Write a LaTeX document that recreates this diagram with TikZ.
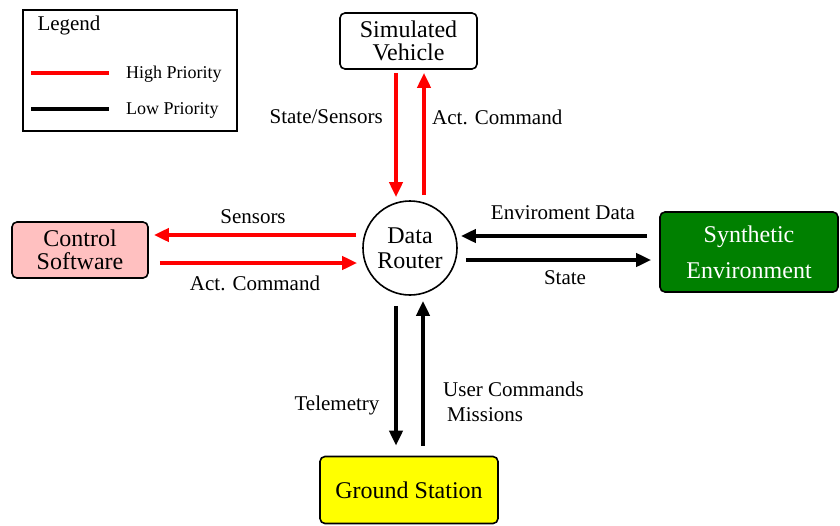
\documentclass[tikz,border=0pt]{standalone}
\usepackage{fontspec}
\setmainfont{Liberation Serif}
\usetikzlibrary{arrows.meta}
\begin{document}
\begin{tikzpicture}[x=1pt,y=-1pt,
  box/.style={draw=black,line width=1.6pt,rounded corners=5pt,align=center,inner sep=0pt,font=\fontsize{24}{23}\selectfont},
  lbl/.style={inner sep=0pt,font=\fontsize{21}{25}\selectfont},
  leg/.style={inner sep=0pt,font=\fontsize{18}{20}\selectfont},
  hp/.style={draw={rgb,255:red,255;green,0;blue,0},line width=4pt,-{Triangle[length=15pt,width=13pt]}},
  lp/.style={draw=black,line width=4pt,-{Triangle[length=15pt,width=13pt]}}
]
\useasboundingbox (0,0) rectangle (840,525);
% legend
\node[draw=black,line width=1.6pt,minimum width=214pt,minimum height=121pt,inner sep=0pt] (legend) at (130,70.5) {};
\node[inner sep=0pt,font=\fontsize{21}{24}\selectfont] (legtitle) at (69,25) {Legend};
\coordinate (hpA) at (31,73); \coordinate (hpB) at (109,73);
\coordinate (lpA) at (31,109); \coordinate (lpB) at (109,109);
\draw[line width=4pt,red] (hpA) -- (hpB);
\draw[line width=4pt,black] (lpA) -- (lpB);
\node[leg,anchor=west] (hptext) at (126,74) {High Priority};
\node[leg,anchor=west] (lptext) at (126,110) {Low Priority};
% nodes
\node[box,fill=white,minimum width=137pt,minimum height=56pt] (sim) at (408.5,41) {Simulated\\Vehicle};
\node[box,fill={rgb,255:red,255;green,192;blue,192},minimum width=136pt,minimum height=56pt] (ctrl) at (80,250) {Control\\Software};
\node[box,fill={rgb,255:red,0;green,128;blue,0},text=white,minimum width=178pt,minimum height=80pt] (syn) at (749,252) {Synthetic\\[13pt]Environment};
\node[box,fill={rgb,255:red,255;green,255;blue,0},minimum width=178pt,minimum height=67pt] (gs) at (409,490) {Ground Station};
\node[draw=black,line width=1.6pt,circle,minimum size=94pt,inner sep=0pt,align=center,font=\fontsize{24}{25}\selectfont] (router) at (410,248) {Data\\Router};
% connectors
\draw[hp] ([xshift=-12.5pt,yshift=-3pt]sim.south) -- ([xshift=-14pt,yshift=3pt]router.north);
\draw[hp] ([xshift=14pt,yshift=5pt]router.north) -- ([xshift=15.5pt,yshift=-3pt]sim.south);
\draw[hp] ([xshift=-6pt,yshift=13pt]router.west) -- ([xshift=5pt,yshift=15pt]ctrl.east);
\draw[hp] ([xshift=11pt,yshift=-13pt]ctrl.east) -- ([xshift=-5pt,yshift=-15pt]router.west);
\draw[lp] ([xshift=-12pt,yshift=16pt]syn.west) -- ([xshift=3pt,yshift=12pt]router.east);
\draw[lp] ([xshift=8pt,yshift=-12pt]router.east) -- ([xshift=-8pt,yshift=-8pt]syn.west);
\draw[lp] ([xshift=-14pt,yshift=-10pt]router.south) -- ([xshift=-13pt,yshift=10pt]gs.north);
\draw[lp] ([xshift=14pt,yshift=10pt]gs.north) -- ([xshift=13pt,yshift=-5pt]router.south);
% labels
\node[lbl,anchor=east] (l1) at (383,117) {State/Sensors};
\node[lbl,anchor=west] (l2) at (432,117) {Act. Command};
\node[lbl] (l3) at (253,217) {Sensors};
\node[lbl] (l4) at (255,283) {Act. Command};
\node[lbl] (l5) at (563,213) {Enviroment Data};
\node[lbl] (l6) at (565,278) {State};
\node[lbl] (l7) at (337,405) {Telemetry};
\node[lbl,anchor=west,align=left] (l8) at (443,402) {User Commands\\\hspace{4pt}Missions};
\end{tikzpicture}
\end{document}
